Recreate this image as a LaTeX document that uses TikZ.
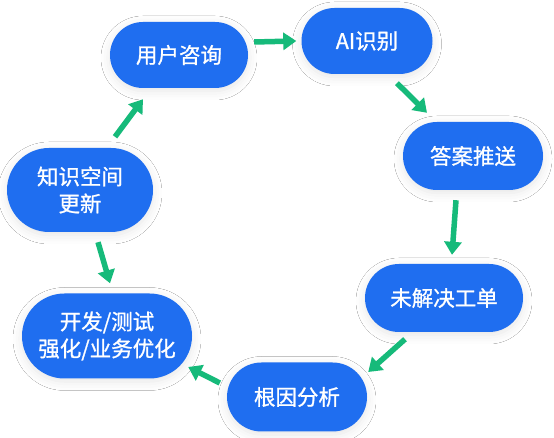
\documentclass[tikz,border=0pt]{standalone}
\usepackage{fontspec}
\setmainfont{Noto Sans CJK SC}
\newfontfamily\stagefont{Noto Sans CJK SC}[FakeBold=1]
\usetikzlibrary{arrows.meta,shapes.misc,shadows.blur}
\definecolor{stageblue}{RGB}{31,110,240}
\definecolor{flowgreen}{RGB}{22,186,122}
\begin{document}
\begin{tikzpicture}[x=1pt,y=1pt,
    stage/.style={rounded rectangle,fill=stageblue,text=white,inner sep=0pt,
      align=center,font=\stagefont\fontsize{21.5}{27}\selectfont,
      blur shadow={shadow xshift=0pt,shadow yshift=-3pt,shadow blur radius=9pt,shadow opacity=10}},
    flow/.style={flowgreen,line width=5.5pt,-{Triangle[length=13pt,width=17pt]}}]
    \fill[white] (0,0) rectangle (554,438);
    \useasboundingbox (0,0) rectangle (554,438);

    \node[stage,minimum width=138pt,minimum height=66pt] (ask) at (179,383) {用户咨询};
    \node[stage,minimum width=131pt,minimum height=66pt] (ai) at (367,397) {AI识别};
    \node[stage,minimum width=140pt,minimum height=68pt] (push) at (473,282) {答案推送};
    \node[stage,minimum width=158pt,minimum height=68pt] (ticket) at (444,140) {未解决工单};
    \node[stage,minimum width=140pt,minimum height=69pt] (cause) at (297,41) {根因分析};
    \node[stage,minimum width=170pt,minimum height=85pt] (dev) at (107,102) {开发/测试\\强化/业务优化};
    \node[stage,minimum width=146pt,minimum height=84pt] (know) at (80,248) {知识空间\\更新};

    \draw[flow] ([xshift=6pt,yshift=13pt]ask.east) -- ([xshift=-5pt]ai.west);
    \draw[flow] ([xshift=30pt,yshift=-9pt]ai.south) -- ([xshift=-46pt,yshift=9pt]push.north);
    \draw[flow] ([xshift=-17pt,yshift=-10pt]push.south) -- ([xshift=8pt,yshift=9pt]ticket.north);
    \draw[flow] ([xshift=-39pt,yshift=-7pt]ticket.south) -- ([xshift=1pt,yshift=25pt]cause.east);
    \draw[flow] ([xshift=-7pt,yshift=14pt]cause.west) -- ([xshift=-4pt,yshift=-31pt]dev.east);
    \draw[flow] ([xshift=18pt,yshift=-10pt]know.south) -- ([xshift=3pt,yshift=10pt]dev.north);
    \draw[flow] ([xshift=35pt,yshift=11pt]know.north) -- ([xshift=-36pt,yshift=-11pt]ask.south);
  \end{tikzpicture}
\end{document}
